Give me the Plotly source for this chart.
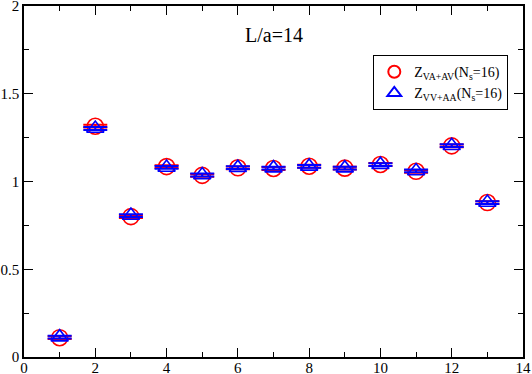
import plotly.graph_objects as go

# operator index
ops = [1, 2, 3, 4, 5, 6, 7, 8, 9, 10, 11, 12, 13]
# Z_{VA+AV}(N_s=16), red circles
z_va_av = [0.110, 1.315, 0.800, 1.085, 1.035, 1.078, 1.074, 1.087, 1.076, 1.097, 1.058, 1.203, 0.880]
z_va_av_err = [0.008, 0.008, 0.008, 0.008, 0.008, 0.008, 0.008, 0.008, 0.008, 0.008, 0.008, 0.008, 0.008]
# Z_{VV+AA}(N_s=16), blue triangles
z_vv_aa = [0.113, 1.302, 0.806, 1.080, 1.037, 1.079, 1.076, 1.086, 1.076, 1.096, 1.060, 1.204, 0.880]
z_vv_aa_err = [0.008, 0.008, 0.008, 0.008, 0.008, 0.008, 0.008, 0.008, 0.008, 0.008, 0.008, 0.008, 0.008]

font = "Liberation Serif"

fig = go.Figure()
fig.add_trace(go.Scatter(
    x=ops, y=z_va_av, mode="markers",
    name="Z<sub>VA+AV</sub>(N<sub>s</sub>=16)",
    marker=dict(symbol="circle-open", size=16, color="#ff0000", line=dict(width=1.6)),
    error_y=dict(type="data", array=z_va_av_err, color="#ff0000", thickness=2, width=12),
))
fig.add_trace(go.Scatter(
    x=ops, y=z_vv_aa, mode="markers",
    name="Z<sub>VV+AA</sub>(N<sub>s</sub>=16)",
    marker=dict(symbol="triangle-up-open", size=15, color="#0000ff", line=dict(width=1.6)),
    error_y=dict(type="data", array=z_vv_aa_err, color="#0000ff", thickness=2, width=12),
))

axis_common = dict(
    showline=True, linecolor="black", linewidth=1.5, mirror="allticks",
    ticks="inside", ticklen=9, tickwidth=1, tickcolor="black",
    showgrid=False, zeroline=False, ticklabeloverflow="allow", automargin=False,
    tickfont=dict(family=font, size=15, color="black"),
)

fig.update_xaxes(range=[0, 14], tickmode="linear", tick0=0, dtick=2,
                 ticklabelstandoff=-4,
                 minor=dict(ticks="inside", ticklen=5, dtick=1, tickcolor="black"),
                 **axis_common)
fig.update_yaxes(range=[0, 2], tickmode="array",
                 tickvals=[0, 0.5, 1, 1.5, 2], ticktext=["0", "0.5", "1", "1.5", "2"],
                 minor=dict(ticks="inside", ticklen=5, dtick=0.25, tickcolor="black"),
                 **axis_common)

fig.add_annotation(text="L/a=14", x=0.5, y=0.955, xref="paper", yref="paper",
                   showarrow=False, font=dict(family=font, size=20, color="black"))

fig.update_layout(
    width=532, height=374,
    margin=dict(l=24, r=9, t=6, b=17),
    paper_bgcolor="white", plot_bgcolor="white",
    font=dict(family=font, color="black"),
    showlegend=True,
    legend=dict(x=0.7, y=0.86, xanchor="left", yanchor="top",
                bordercolor="black", borderwidth=1, bgcolor="white",
                font=dict(family=font, size=14, color="black"),
                tracegroupgap=0, itemsizing="constant"),
)

# drop the page's default body margin so the figure sits at the window corner
fig.write_html("out.html", config={"displayModeBar": False},
               post_script="document.body.style.margin='0';")
